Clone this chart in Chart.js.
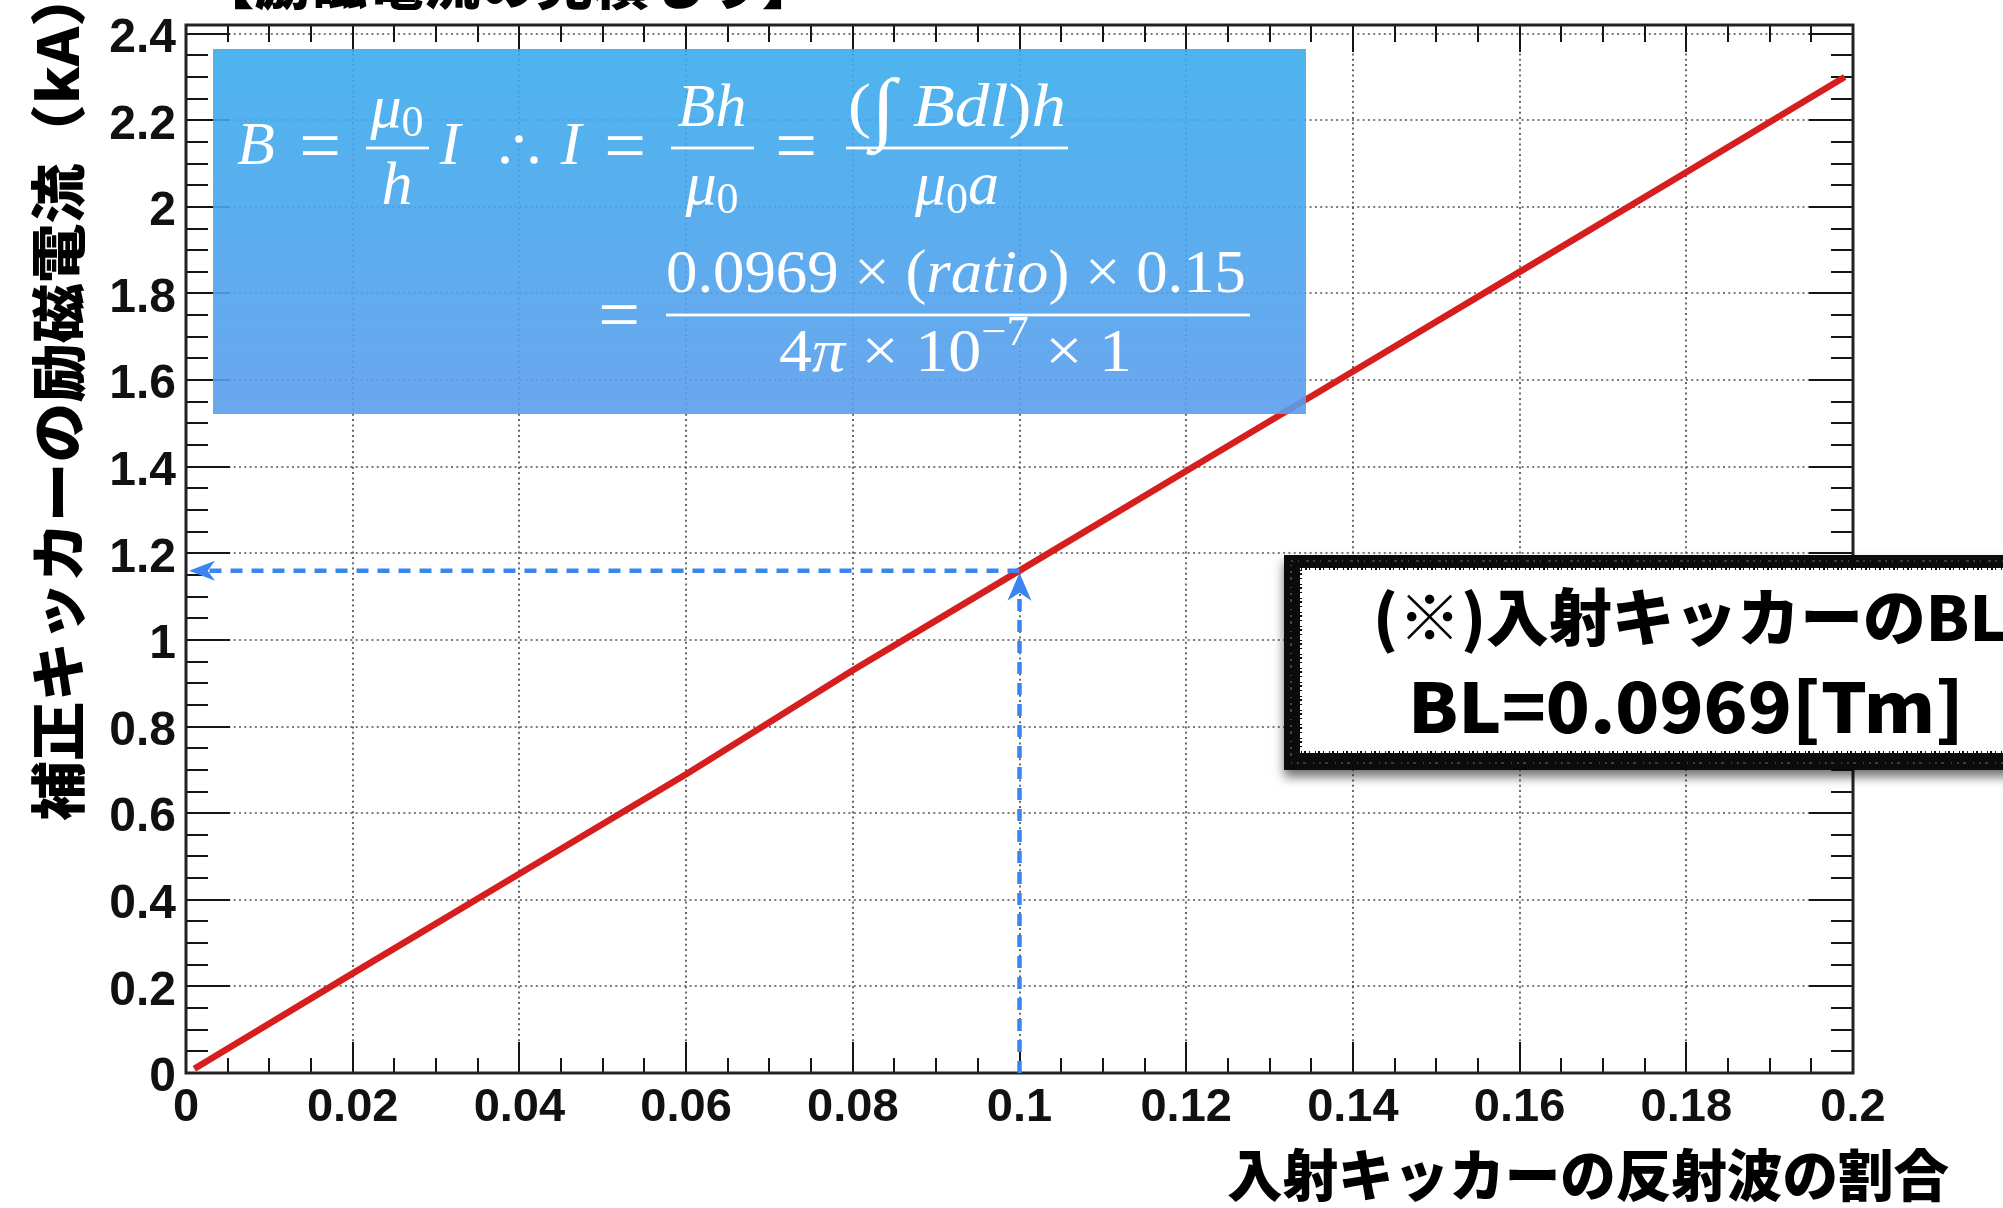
<!DOCTYPE html>
<html lang="ja">
<head>
<meta charset="utf-8">
<title>補正キッカーの励磁電流</title>
<script src="https://cdn.jsdelivr.net/npm/chart.js@4/dist/chart.umd.min.js"></script>
<style>
  html, body { margin: 0; padding: 0; background: #ffffff; }
  #wrap { width: 2003px; height: 1208px; }
</style>
</head>
<body>
<div id="wrap"><canvas id="chart" width="2003" height="1208"></canvas></div>
<script>
// 入射キッカーの反射波の割合 (ratio) に対する補正キッカーの励磁電流 (kA)
const RATIO      = [0.001, 0.02, 0.04, 0.06, 0.08, 0.10, 0.12, 0.14, 0.16, 0.18, 0.199];
const CURRENT_KA = [0.01,  0.23, 0.46, 0.69, 0.93, 1.16, 1.39, 1.62, 1.85, 2.08, 2.30];

const X_TICKS       = [0, 0.02, 0.04, 0.06, 0.08, 0.1, 0.12, 0.14, 0.16, 0.18, 0.2];
const X_TICK_LABELS = ['0', '0.02', '0.04', '0.06', '0.08', '0.1', '0.12', '0.14', '0.16', '0.18', '0.2'];
const Y_TICKS       = [0, 0.2, 0.4, 0.6, 0.8, 1, 1.2, 1.4, 1.6, 1.8, 2, 2.2, 2.4];
const Y_TICK_LABELS = ['0', '0.2', '0.4', '0.6', '0.8', '1', '1.2', '1.4', '1.6', '1.8', '2', '2.2', '2.4'];
const X_RANGE = [0, 0.2];
const Y_RANGE = [0, 2.42];
const MINOR_DIVISIONS = 4;

// ratio = 0.1 での読み取り値
const MARK_RATIO = 0.1;
const MARK_CURRENT_KA = 1.16;

const TITLE   = '【励磁電流の見積もり】';
const X_TITLE = '入射キッカーの反射波の割合';
const Y_TITLE = '補正キッカーの励磁電流（kA）';
const NOTE_LINES = ['(※)入射キッカーのBL', 'BL=0.0969[Tm]'];

const JP = '"Noto Sans CJK JP", "Noto Sans CJK SC", sans-serif';
const SERIF = '"Liberation Serif", "DejaVu Serif", serif';
const SANS = '"Liberation Sans", Arial, sans-serif';

function minorValues(majors) {
  const out = [];
  for (let i = 0; i < majors.length - 1; i++) {
    const step = (majors[i + 1] - majors[i]) / MINOR_DIVISIONS;
    for (let k = 1; k < MINOR_DIVISIONS; k++) out.push(majors[i] + k * step);
  }
  return out;
}

// text squeezed/stretched horizontally to a given width
function fitText(ctx, text, font, x, y, width, align) {
  ctx.save();
  ctx.font = font;
  const w = ctx.measureText(text).width;
  ctx.translate(x, y);
  ctx.scale(width / w, 1);
  ctx.textAlign = align || 'left';
  ctx.fillText(text, 0, 0);
  ctx.restore();
}

// mixed upright / italic runs for the formula
function runFont(r, base) { return (r.it ? 'italic ' : '') + (r.size || base) + 'px ' + SERIF; }
function runsWidth(ctx, runs, base) {
  let w = 0;
  runs.forEach(r => { ctx.font = runFont(r, base); w += ctx.measureText(r.t).width; });
  return w;
}
function drawRuns(ctx, runs, base, x, y, opt) {
  opt = opt || {};
  const w = runsWidth(ctx, runs, base);
  const sx = opt.width ? opt.width / w : 1;
  const left = opt.align === 'center' ? x - (w * sx) / 2 : x;
  ctx.save();
  ctx.translate(left, y);
  ctx.scale(sx, 1);
  ctx.textAlign = 'left';
  ctx.textBaseline = 'alphabetic';
  let cx = 0;
  runs.forEach(r => {
    ctx.font = runFont(r, base);
    ctx.fillText(r.t, cx, r.dy || 0);
    cx += ctx.measureText(r.t).width;
  });
  ctx.restore();
}
function bar(ctx, x0, x1, y) {
  ctx.fillRect(x0, y - 1.4, x1 - x0, 2.8);
}

function arrowHead(ctx, tipX, tipY, dx, dy, len, half) {
  const bx = tipX - dx * len, by = tipY - dy * len;
  const nx = -dy, ny = dx;
  const mx = tipX - dx * len * 0.72, my = tipY - dy * len * 0.72;
  ctx.beginPath();
  ctx.moveTo(tipX, tipY);
  ctx.lineTo(bx + nx * half, by + ny * half);
  ctx.lineTo(mx, my);
  ctx.lineTo(bx - nx * half, by - ny * half);
  ctx.closePath();
  ctx.fill();
}

// dotted grid, inward ticks and the frame
const framePlugin = {
  id: 'frame',
  beforeDatasetsDraw(chart) {
    const { ctx, chartArea: a, scales: { x, y } } = chart;
    ctx.save();
    ctx.strokeStyle = '#505050';
    ctx.lineWidth = 1.7;
    ctx.setLineDash([2, 3.3]);
    ctx.beginPath();
    X_TICKS.forEach(v => {
      if (v <= X_RANGE[0] || v >= X_RANGE[1]) return;
      const p = Math.round(x.getPixelForValue(v));
      ctx.moveTo(p, a.bottom); ctx.lineTo(p, a.top);
    });
    Y_TICKS.forEach(v => {
      if (v <= Y_RANGE[0] || v >= Y_RANGE[1]) return;
      const p = Math.round(y.getPixelForValue(v));
      ctx.moveTo(a.left, p); ctx.lineTo(a.right, p);
    });
    ctx.stroke();

    ctx.setLineDash([]);
    ctx.strokeStyle = '#151515';
    ctx.lineWidth = 2;
    ctx.beginPath();
    const xTick = (v, lb, lt) => {
      const p = Math.round(x.getPixelForValue(v));
      ctx.moveTo(p, a.bottom); ctx.lineTo(p, a.bottom - lb);
      ctx.moveTo(p, a.top); ctx.lineTo(p, a.top + lt);
    };
    const yTick = (v, l) => {
      const p = Math.round(y.getPixelForValue(v));
      if (p < a.top) return;
      ctx.moveTo(a.left, p); ctx.lineTo(a.left + l, p);
      ctx.moveTo(a.right, p); ctx.lineTo(a.right - l, p);
    };
    X_TICKS.forEach(v => xTick(v, 31, 27));
    minorValues(X_TICKS).forEach(v => xTick(v, 15, 17));
    Y_TICKS.forEach(v => yTick(v, 44));
    minorValues(Y_TICKS).forEach(v => yTick(v, 22));
    ctx.stroke();

    ctx.strokeStyle = '#222';
    ctx.lineWidth = 3;
    ctx.strokeRect(a.left, a.top, a.right - a.left, a.bottom - a.top);
    ctx.restore();
  }
};

// read-off arrows, formula panel, BL note
const overlayPlugin = {
  id: 'overlay',
  afterDatasetsDraw(chart) {
    const { ctx, chartArea: a, scales: { x, y } } = chart;
    const px = x.getPixelForValue(MARK_RATIO);
    const py = y.getPixelForValue(MARK_CURRENT_KA);
    ctx.save();

    // blue dashed read-off lines
    ctx.strokeStyle = '#3a85ef';
    ctx.fillStyle = '#3a85ef';
    ctx.lineWidth = 4.5;
    ctx.setLineDash([12, 9]);
    ctx.beginPath();
    ctx.moveTo(px, py); ctx.lineTo(a.left + 20, py);
    ctx.moveTo(px, a.bottom); ctx.lineTo(px, py + 22);
    ctx.stroke();
    ctx.setLineDash([]);
    arrowHead(ctx, a.left + 3, py, -1, 0, 26, 10);
    arrowHead(ctx, px, py + 2, 0, -1, 28, 12);

    // formula panel
    const fx0 = 213, fy0 = 49, fx1 = 1306, fy1 = 414;
    const g = ctx.createLinearGradient(0, fy0, 0, fy1);
    g.addColorStop(0, 'rgba(58,172,236,0.9)');
    g.addColorStop(1, 'rgba(90,157,237,0.9)');
    ctx.fillStyle = g;
    ctx.fillRect(fx0, fy0, fx1 - fx0, fy1 - fy0);

    ctx.fillStyle = '#ffffff';
    const F = 62;
    const EQ = [{ t: '=', size: 74 }];
    const mu0 = [{ t: 'μ', it: 1 }, { t: '0', size: 44, dy: 9 }];
    // B = μ0/h I
    drawRuns(ctx, [{ t: 'B', it: 1 }], F, 256, 164, { align: 'center' });
    drawRuns(ctx, EQ, F, 320, 170, { align: 'center' });
    bar(ctx, 366, 429, 148);
    drawRuns(ctx, mu0, F, 397, 127, { align: 'center' });
    drawRuns(ctx, [{ t: 'h', it: 1 }], F, 397, 204, { align: 'center' });
    drawRuns(ctx, [{ t: 'I', it: 1 }], F, 450, 164, { align: 'center' });
    // ∴
    [[519, 139], [505, 160], [534, 160]].forEach(([cx, cy]) => {
      ctx.beginPath(); ctx.arc(cx, cy, 3.8, 0, Math.PI * 2); ctx.fill();
    });
    // I = Bh/μ0 = (∫Bdl)h/(μ0 a)
    drawRuns(ctx, [{ t: 'I', it: 1 }], F, 571, 164, { align: 'center' });
    drawRuns(ctx, EQ, F, 625, 170, { align: 'center' });
    bar(ctx, 671, 754, 148);
    drawRuns(ctx, [{ t: 'Bh', it: 1 }], F, 712, 126, { align: 'center' });
    drawRuns(ctx, mu0, F, 712, 204, { align: 'center' });
    drawRuns(ctx, EQ, F, 796, 170, { align: 'center' });
    bar(ctx, 846, 1068, 148);
    drawRuns(ctx, [{ t: '(' }, { t: '∫', size: 80, dy: 8 }, { t: ' ' }, { t: 'Bdl', it: 1 }, { t: ')' }, { t: 'h', it: 1 }],
      F, 848, 126, { width: 218 });
    drawRuns(ctx, mu0.concat([{ t: 'a', it: 1 }]), F, 957, 204, { align: 'center' });
    // = 0.0969 × (ratio) × 0.15 / (4π × 10^-7 × 1)
    drawRuns(ctx, EQ, F, 619, 339, { align: 'center' });
    bar(ctx, 666, 1250, 315);
    drawRuns(ctx, [{ t: '0.0969 × (' }, { t: 'ratio', it: 1 }, { t: ') × 0.15' }], F, 666, 292, { width: 580 });
    drawRuns(ctx, [{ t: '4' }, { t: 'π', it: 1 }, { t: ' × 10' }, { t: '−7', size: 42, dy: -26 }, { t: ' × 1' }],
      F, 779, 371, { width: 353 });

    // BL note box
    const bx = 1284, by = 555, bw = 2100 - 1284, bh = 215;
    ctx.save();
    ctx.shadowColor = 'rgba(0,0,0,0.55)';
    ctx.shadowBlur = 10;
    ctx.shadowOffsetY = 7;
    ctx.fillStyle = '#0b0b0b';
    ctx.fillRect(bx, by, bw, bh);
    ctx.restore();
    ctx.strokeStyle = 'rgba(255,255,255,0.4)';
    ctx.lineWidth = 1.2;
    ctx.setLineDash([2, 5, 1, 7, 3, 4]);
    ctx.strokeRect(bx + 7, by + 6, bw, bh - 13);
    ctx.setLineDash([]);
    ctx.fillStyle = '#ffffff';
    ctx.fillRect(1300, 568, bw, 753 - 568);
    ctx.strokeStyle = '#0b0b0b';
    ctx.lineWidth = 2.2;
    ctx.setLineDash([1, 3, 2, 2, 1, 5]);
    ctx.strokeRect(1301, 569, bw, 753 - 570);
    ctx.setLineDash([]);

    ctx.fillStyle = '#000000';
    ctx.textBaseline = 'alphabetic';
    fitText(ctx, NOTE_LINES[0], '900 62px ' + JP, 1373, 641, 634, 'left');
    fitText(ctx, NOTE_LINES[1], '900 68px ' + JP, 1408, 733, 556, 'left');
    ctx.restore();
  },
  afterDraw(chart) {
    const { ctx } = chart;
    ctx.save();
    ctx.fillStyle = '#000000';
    ctx.textBaseline = 'alphabetic';
    // heading, mostly above the page edge
    fitText(ctx, TITLE, '900 56px ' + JP, 198, 4, 620, 'left');
    // x-axis title
    fitText(ctx, X_TITLE, '900 56px ' + JP, 1227, 1196, 722, 'left');
    // y-axis title (rotated)
    ctx.save();
    ctx.translate(58, 821);
    ctx.rotate(-Math.PI / 2);
    ctx.textBaseline = 'middle';
    fitText(ctx, Y_TITLE, '900 56px ' + JP, 0, 0, 854, 'left');
    ctx.restore();
    ctx.restore();
  }
};

new Chart(document.getElementById('chart'), {
  type: 'line',
  data: {
    datasets: [{
      data: RATIO.map((r, i) => ({ x: r, y: CURRENT_KA[i] })),
      borderColor: '#d61e1e',
      borderWidth: 6.5,
      pointRadius: 0,
      tension: 0,
      fill: false
    }]
  },
  options: {
    responsive: false,
    devicePixelRatio: 1,
    animation: false,
    events: [],
    layout: { padding: { top: 25, right: 150, left: 0, bottom: 0 } },
    plugins: { legend: { display: false }, tooltip: { enabled: false } },
    scales: {
      x: {
        type: 'linear',
        min: X_RANGE[0],
        max: X_RANGE[1],
        grid: { display: false, drawTicks: false },
        border: { display: false },
        afterBuildTicks: s => { s.ticks = X_TICKS.map(v => ({ value: v })); },
        afterFit: s => { s.height = 135; },
        ticks: {
          font: { family: SANS, size: 47, weight: 'bold', lineHeight: 1 },
          color: '#111',
          padding: 12,
          autoSkip: false,
          maxRotation: 0,
          minRotation: 0,
          callback: (v, i) => X_TICK_LABELS[i]
        }
      },
      y: {
        type: 'linear',
        min: Y_RANGE[0],
        max: Y_RANGE[1],
        grid: { display: false, drawTicks: false },
        border: { display: false },
        afterBuildTicks: s => { s.ticks = Y_TICKS.map(v => ({ value: v })); },
        afterFit: s => { s.width = 186; },
        ticks: {
          font: { family: SANS, size: 48, weight: 'bold', lineHeight: 0.4 },
          color: '#111',
          padding: 10,
          labelOffset: 5,
          autoSkip: false,
          callback: (v, i) => Y_TICK_LABELS[i]
        }
      }
    }
  },
  plugins: [framePlugin, overlayPlugin]
});
</script>
</body>
</html>
